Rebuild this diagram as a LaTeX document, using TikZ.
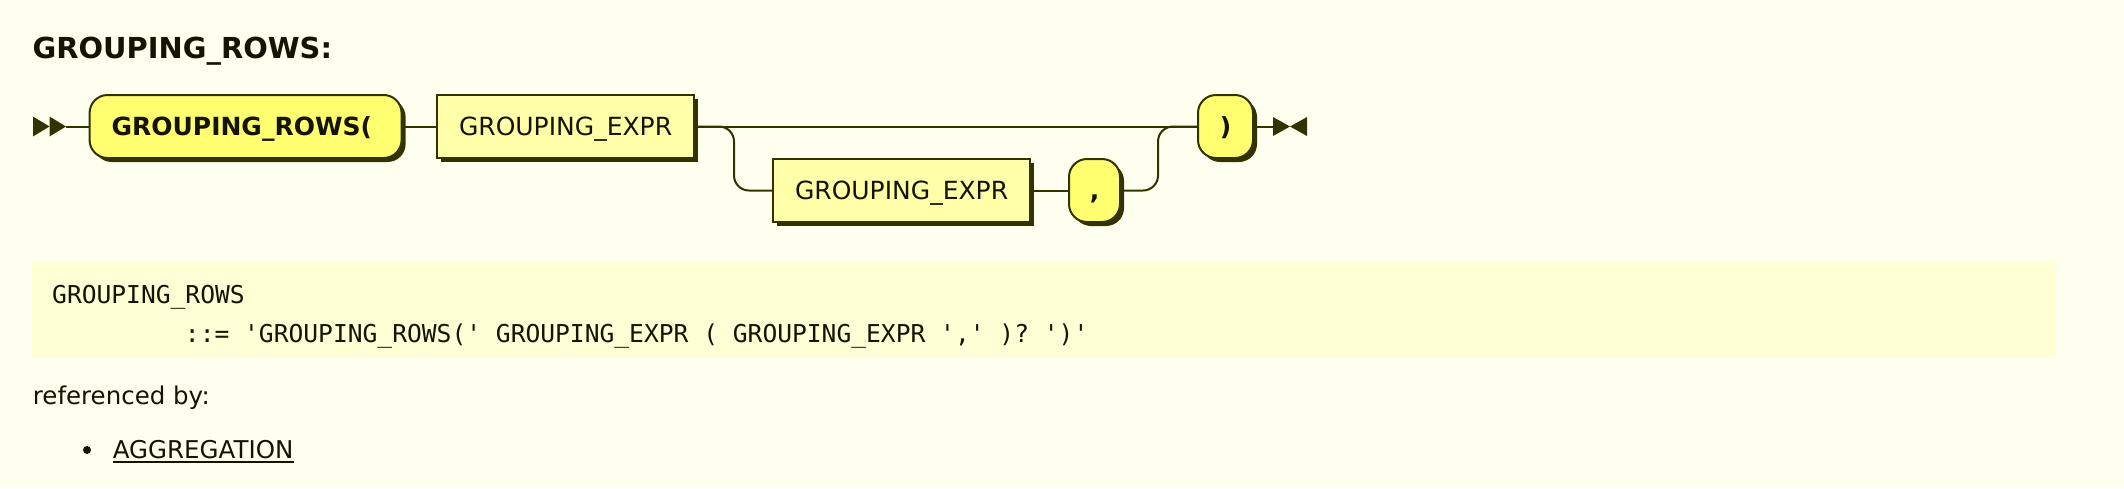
\documentclass[tikz,border=0pt]{standalone}
\usepackage{fontspec}
\setmainfont{DejaVu Sans}
\setmonofont{DejaVu Sans Mono}
\usetikzlibrary{shadows}
\definecolor{pagebg}{HTML}{FFFFF0}
\definecolor{codebg}{HTML}{FFFFD6}
\definecolor{rrterm}{HTML}{FFFF70}
\definecolor{rrnt}{HTML}{FFFFAA}
\definecolor{rrline}{HTML}{333300}
\definecolor{rrtext}{HTML}{141400}
\begin{document}
\begin{tikzpicture}[x=1pt,y=-1pt,
  box/.style={draw=rrline, line width=2pt, minimum height=63pt, inner ysep=0pt, inner xsep=22pt,
    text height=18.2pt, text depth=0pt, text=rrtext,
    drop shadow={shadow xshift=4pt, shadow yshift=-4pt, fill=rrline, opacity=1},
    font=\fontsize{25}{30}\selectfont},
  termbox/.style={box, fill=rrterm, rounded corners=18pt, font=\bfseries\fontsize{25}{30}\selectfont},
  ntbox/.style={box, fill=rrnt},
  charbox/.style={termbox, inner xsep=0pt, align=center},
  conn/.style={draw=rrline, line width=2pt},
  arrowtip/.style={fill=rrline},
  plain/.style={anchor=base west, inner sep=0pt, text=rrtext, font=\fontsize{24.5}{30}\selectfont},
  code/.style={plain, font=\ttfamily\fontsize{24.6}{30}\selectfont}]
\fill[pagebg] (0,0) rectangle (2124,488);
\useasboundingbox (0,0) rectangle (2124,488);

% title
\node[plain, font=\bfseries\fontsize{28.9}{34}\selectfont] (title) at (32.5,58.3) {GROUPING\_ROWS:};

% diagram nodes
\node[termbox, text width=268pt, align=left] (t1) at (245.6,126.5) {GROUPING\_ROWS(};
\node[ntbox, text width=213pt, align=left] (nt1) at (565.5,126.5) {GROUPING\_EXPR};
\node[ntbox, text width=213pt, align=left] (nt2) at (901.5,190.5) {GROUPING\_EXPR};
\node[charbox, minimum width=51pt] (cm) at (1094.5,190.5) {,};
\node[charbox, minimum width=55pt] (cl) at (1225.5,126.5) {)};

% start / end markers
\fill[arrowtip] (33,116.5) -- (49.5,126.5) -- (33,136.5) -- cycle;
\fill[arrowtip] (49.5,116.5) -- (66,126.5) -- (49.5,136.5) -- cycle;
\coordinate (startpt) at (66,126.5);
\coordinate (endpt) at (1273,126.5);
\fill[arrowtip] (1273,117) -- (1290,126.5) -- (1273,136) -- cycle;
\fill[arrowtip] (1307,117) -- (1290,126.5) -- (1307,136) -- cycle;

% connectors
\draw[conn] (startpt) -- (t1.west);
\draw[conn] (t1.east) -- (nt1.west);
\draw[conn] (nt1.east) -- (cl.west);
\draw[conn, rounded corners=15pt] (nt1.east) -- (734,126.5) -- (734,190.5) -- (nt2.west);
\draw[conn] (nt2.east) -- (cm.west);
\draw[conn, rounded corners=15pt] (cm.east) -- (1158,190.5) -- (1158,126.5) -- (cl.west);
\draw[conn] (cl.east) -- (endpt);

% EBNF code block
\fill[codebg] (32,261) rectangle (2056,357);
\node[code] (c1) at (52,303) {GROUPING\_ROWS};
\node[code] (c2) at (184.75,342) {::= 'GROUPING\_ROWS(' GROUPING\_EXPR ( GROUPING\_EXPR ',' )? ')'};

% referenced by
\node[plain] (ref) at (32.7,404) {referenced by:};
\node[circle, fill=rrtext, inner sep=0pt, minimum size=8pt] (bul) at (87,450) {};
\node[plain] (agg) at (112.7,458) {AGGREGATION};
\draw[line width=2pt, rrtext] ([yshift=-3.7pt]agg.base west) -- ([yshift=-3.7pt]agg.base east);
\end{tikzpicture}
\end{document}
